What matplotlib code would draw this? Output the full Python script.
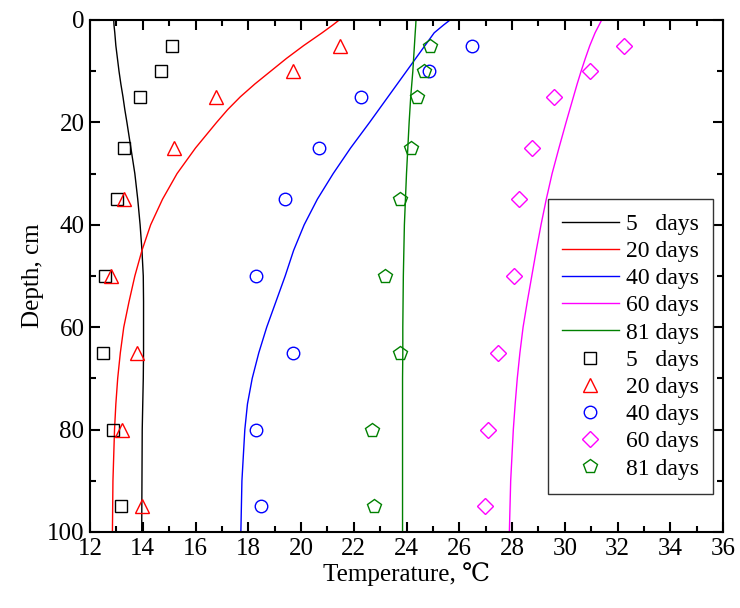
import matplotlib
matplotlib.use("Agg")
import matplotlib.pyplot as plt
from matplotlib.ticker import MultipleLocator

plt.rcParams["font.family"] = ["Liberation Serif", "DejaVu Serif"]

# 計算値（線）: 深さ[cm] と 温度[℃]
line_depth = [0, 1, 2.5, 5, 7.5, 10, 12.5, 15, 17.5, 20, 25, 30, 35, 40,
              45, 50, 55, 60, 65, 70, 75, 80, 90, 100]
line_5 = [12.9, 12.91, 12.94, 12.98, 13.04, 13.1, 13.17, 13.25, 13.32, 13.4, 13.55, 13.7,
          13.81, 13.9, 13.97, 14.02, 14.03, 14.03, 14.03, 14.02, 14.0, 13.98, 13.97, 13.96]
line_20 = [21.45, 21.2, 20.8, 20.1, 19.45, 18.85, 18.25, 17.7, 17.22, 16.8, 16.0, 15.3,
           14.75, 14.3, 13.97, 13.7, 13.48, 13.28, 13.15, 13.05, 12.98, 12.93, 12.87, 12.85]
line_40 = [25.65, 25.4, 25.05, 24.7, 24.35, 24.0, 23.65, 23.3, 22.95, 22.6, 21.88, 21.22,
           20.62, 20.12, 19.72, 19.4, 19.05, 18.7, 18.4, 18.15, 17.97, 17.87, 17.76, 17.72]
line_60 = [31.4, 31.3, 31.15, 30.95, 30.78, 30.62, 30.47, 30.33, 30.19, 30.05, 29.78, 29.52,
           29.3, 29.1, 28.92, 28.75, 28.58, 28.42, 28.3, 28.2, 28.12, 28.05, 27.95, 27.9]
line_81 = [24.36, 24.35, 24.33, 24.3, 24.27, 24.24, 24.2, 24.16, 24.13, 24.1, 24.05, 24.0,
           23.96, 23.92, 23.9, 23.88, 23.87, 23.86, 23.86, 23.85, 23.85, 23.85, 23.85, 23.85]

# 実測値（マーカー）
obs_depth = [5, 10, 15, 25, 35, 50, 65, 80, 95]
obs_5 = [15.1, 14.69, 13.9, 13.3, 13.01, 12.57, 12.48, 12.88, 13.18]
obs_20 = [21.48, 19.69, 16.79, 15.2, 13.3, 12.78, 13.79, 13.2, 13.98]
obs_40 = [26.48, 24.86, 22.27, 20.68, 19.38, 18.29, 19.69, 18.29, 18.48]
obs_60 = [32.26, 30.97, 29.58, 28.77, 28.27, 28.06, 27.48, 27.08, 26.98]
obs_81 = [24.89, 24.66, 24.39, 24.18, 23.77, 23.18, 23.77, 22.68, 22.78]

labels = ["5   days", "20 days", "40 days", "60 days", "81 days"]
colors = ["#000000", "#ff0000", "#0000ff", "#ff00ff", "#008000"]
markers = ["s", "^", "o", "D", "p"]
msizes = [8, 10.5, 9, 8, 10]

fig = plt.figure(figsize=(7.4, 6.08), dpi=100)
ax = fig.add_axes([90 / 740, 1 - 532 / 608, 633 / 740, 512 / 608])

for y, c, lab in zip([line_5, line_20, line_40, line_60, line_81], colors, labels):
    ax.plot(y, line_depth, color=c, lw=1.0, label=lab)
for y, c, m, ms, lab in zip([obs_5, obs_20, obs_40, obs_60, obs_81], colors, markers, msizes, labels):
    ax.plot(y, obs_depth, ls="none", marker=m, ms=ms, mfc="none", mec=c, mew=1.0, label=lab)

ax.set_xlim(12, 36)
ax.set_ylim(100, 0)
ax.xaxis.set_major_locator(MultipleLocator(2))
ax.xaxis.set_minor_locator(MultipleLocator(1))
ax.yaxis.set_major_locator(MultipleLocator(20))
ax.yaxis.set_minor_locator(MultipleLocator(10))
ax.tick_params(which="both", direction="in", top=True, right=True, width=1.5, labelsize=18)
ax.tick_params(which="major", length=7, pad=4)
ax.tick_params(which="minor", length=4)
for s in ax.spines.values():
    s.set_linewidth(1.5)

ax.set_xlabel("Temperature, ℃", fontsize=18, labelpad=2)
ax.set_ylabel("Depth, cm", fontsize=18, labelpad=2)

leg = ax.legend(loc="upper right", bbox_to_anchor=(0.984, 0.650), borderaxespad=0,
                fontsize=17, fancybox=False, edgecolor="#333333", framealpha=1,
                labelspacing=0.24, handlelength=2.4, handletextpad=0.3,
                borderpad=0.6)
leg.get_frame().set_linewidth(1.0)

fig.savefig("out.png", dpi=100)
